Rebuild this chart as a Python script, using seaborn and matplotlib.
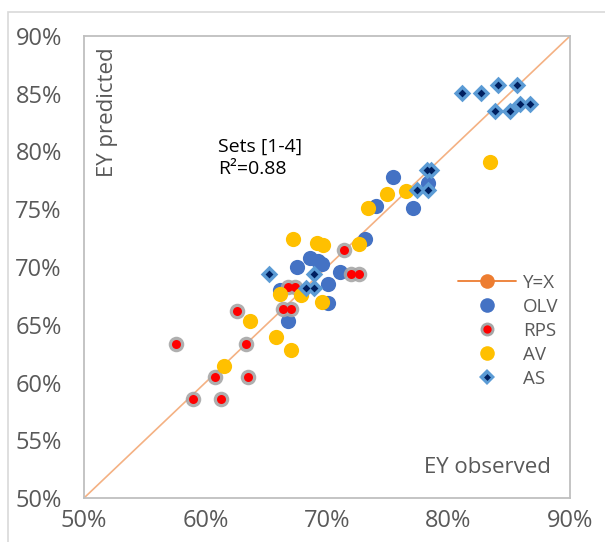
import matplotlib
matplotlib.use("Agg")
import matplotlib.pyplot as plt
import seaborn as sns
import pandas as pd
from matplotlib.lines import Line2D
from matplotlib.patches import Rectangle

# observed (x) / predicted (y) EY values, in %
olv_x = [66.1, 66.8, 67.5, 68.6, 69.3, 69.6, 70.1, 70.1, 71.1, 73.1, 74.0, 75.4, 77.1, 78.3]
olv_y = [68.0, 65.3, 70.0, 70.8, 70.5, 70.3, 68.5, 66.9, 69.6, 72.4, 75.3, 77.8, 75.1, 77.3]

rps_x = [57.6, 59.0, 60.8, 61.3, 62.6, 63.3, 63.5, 66.4, 67.0, 66.8, 67.4, 71.4, 72.0, 72.6]
rps_y = [63.3, 58.6, 60.5, 58.6, 66.2, 63.3, 60.5, 66.4, 66.4, 68.3, 68.3, 71.5, 69.4, 69.4]

av_x = [61.5, 63.7, 65.8, 67.0, 66.1, 67.9, 69.6, 67.2, 69.2, 69.7, 72.6, 73.4, 74.9, 76.5, 83.4]
av_y = [61.4, 65.3, 63.9, 62.8, 67.7, 67.6, 67.0, 72.4, 72.1, 71.9, 72.0, 75.1, 76.3, 76.6, 79.1]

as_x = [81.1, 82.7, 84.1, 85.6, 83.8, 85.1, 85.9, 86.7, 78.2, 78.6, 77.4, 78.3, 65.2, 68.9, 68.9, 68.3]
as_y = [85.1, 85.1, 85.8, 85.8, 83.5, 83.5, 84.1, 84.1, 78.4, 78.4, 76.7, 76.7, 69.4, 69.4, 68.2, 68.2]

line_x = [50, 90]
line_y = [50, 90]

ticks = [50, 55, 60, 65, 70, 75, 80, 85, 90]
xticks = [50, 60, 70, 80, 90]

sns.set_theme(style="white")
plt.rcParams['font.family'] = ['Open Sans', 'DejaVu Sans']

gray_txt = "#595959"
c_olv = "#4472C4"
c_rps = "#FF0000"
c_halo = "#A6A6A6"
c_av = "#FFC000"
c_as = "#5B9BD5"
c_as_in = "#002060"
c_line = "#F4B183"

df_olv = pd.DataFrame({"obs": olv_x, "pred": olv_y})
df_rps = pd.DataFrame({"obs": rps_x, "pred": rps_y})
df_av = pd.DataFrame({"obs": av_x, "pred": av_y})
df_as = pd.DataFrame({"obs": as_x, "pred": as_y})
df_line = pd.DataFrame({"obs": line_x, "pred": line_y})

fig = plt.figure(figsize=(6.05, 5.42), dpi=100)
ax = fig.add_axes([84 / 605, 1 - 498 / 542, 486 / 605, 462 / 542])

sns.lineplot(data=df_line, x="obs", y="pred", ax=ax, color=c_line, lw=1.2, zorder=1)

sns.scatterplot(data=df_olv, x="obs", y="pred", ax=ax, color=c_olv, s=120,
                linewidth=0, zorder=2)

sns.scatterplot(data=df_rps, x="obs", y="pred", ax=ax, color=c_halo, s=125,
                linewidth=0, alpha=0.9, zorder=3)
sns.scatterplot(data=df_rps, x="obs", y="pred", ax=ax, color=c_rps, s=42,
                linewidth=0, zorder=3)

sns.scatterplot(data=df_av, x="obs", y="pred", ax=ax, color=c_av, s=120,
                linewidth=0, zorder=4)

sns.scatterplot(data=df_as, x="obs", y="pred", ax=ax, color=c_as, marker="D", s=80,
                linewidth=0, zorder=5)
sns.scatterplot(data=df_as, x="obs", y="pred", ax=ax, color=c_as_in, marker="D", s=16,
                linewidth=0, zorder=5)

ax.set_xlim(50, 90)
ax.set_ylim(50, 90)
ax.set_xticks(xticks)
ax.set_yticks(ticks)
ax.set_xticklabels([f"{t}%" for t in xticks])
ax.set_yticklabels([f"{t}%" for t in ticks])
ax.tick_params(axis="both", length=0, labelsize=17, labelcolor=gray_txt)
ax.tick_params(axis="y", pad=16)
ax.tick_params(axis="x", pad=8)
ax.set_xlabel("")
ax.set_ylabel("")
for sp in ax.spines.values():
    sp.set_color("#BFBFBF")
    sp.set_linewidth(1.3)

ax.text(61.0, 80.45, "Sets [1-4]", fontsize=14, color="black", ha="left", va="center")
ax.text(61.0, 78.5, "R²=0.88", fontsize=14, color="black", ha="left", va="center")
ax.text(51.9, 83.4, "EY predicted", fontsize=16, color=gray_txt, rotation=90,
        ha="center", va="center")
ax.text(83.2, 52.6, "EY observed", fontsize=16, color=gray_txt, ha="center", va="center")

handles = [
    Line2D([], [], color="#ED7D31", lw=1.3, marker="o", markersize=10.5, markeredgewidth=0),
    Line2D([], [], color=c_olv, lw=0, marker="o", markersize=10.5, markeredgewidth=0),
    (Line2D([], [], color=c_halo, lw=0, marker="o", markersize=10, markeredgewidth=0),
     Line2D([], [], color=c_rps, lw=0, marker="o", markersize=6, markeredgewidth=0)),
    Line2D([], [], color=c_av, lw=0, marker="o", markersize=10.5, markeredgewidth=0),
    (Line2D([], [], color=c_as, lw=0, marker="D", markersize=8, markeredgewidth=0),
     Line2D([], [], color=c_as_in, lw=0, marker="D", markersize=3.5, markeredgewidth=0)),
]
leg = ax.legend(handles, ["Y=X", "OLV", "RPS", "AV", "AS"], loc="center left",
                bbox_to_anchor=(0.751, 0.362), frameon=False, fontsize=13.5,
                handlelength=3.1, handletextpad=0.35, labelspacing=0.32, borderpad=0)
for t in leg.get_texts():
    t.set_color(gray_txt)

# outer chart border
fig.add_artist(Rectangle((8 / 605, -0.5), 1.5, 0.5 + 1 - 12 / 542, transform=fig.transFigure,
                         fill=False, edgecolor="#D9D9D9", lw=1.2))

fig.savefig("out.png", dpi=100)
